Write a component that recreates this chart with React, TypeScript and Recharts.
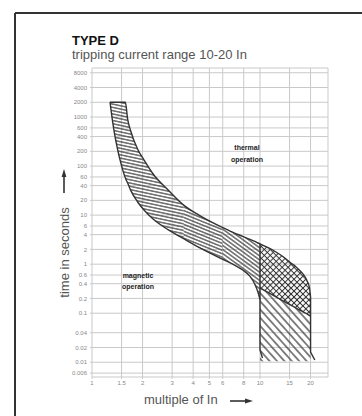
import React from 'react';
import { ComposedChart, Area, Line, XAxis, YAxis, CartesianGrid } from 'recharts';

const xTicks = [1, 1.5, 2, 3, 4, 5, 6, 8, 10, 15, 20];
const yTicks = [
  0.006, 0.01, 0.02, 0.04, 0.1, 0.2, 0.4, 0.6, 1, 2, 4, 6, 10, 20, 40, 60, 100, 200, 400, 600, 1000,
  2000, 4000, 8000,
];

// thermal band (time in s), read along the multiple-of-In axis
const thermalX = [1.28, 1.32, 1.36, 1.42, 1.48, 1.58, 1.63, 1.7, 1.87, 2.04, 2.31, 2.85, 3.51, 4.33, 5.19, 5.97, 7.05, 7.89, 8.7, 9.32, 9.72, 10];
const thermalLow = [2000, 910, 470, 220, 120, 57, 45, 32, 18.5, 12.7, 8.3, 5, 3.3, 2.2, 1.6, 1.27, 0.96, 0.76, 0.57, 0.39, 0.27, 0.19];
const thermalHigh = [2000, 2000, 2000, 2000, 2000, 2000, 910, 520, 220, 133, 69, 32, 16, 10, 7.1, 5.6, 4.3, 3.7, 3.2, 2.9, 2.7, 2.6];

// magnetic range 10-20 In
const magneticX = [10, 11.1, 12.45, 13.8, 15.15, 16.4, 17.6, 18.5, 19.1, 19.66, 20];
const overlapHigh = [2.6, 2.19, 1.77, 1.4, 1.08, 0.875, 0.69, 0.56, 0.45, 0.34, 0.214];
const overlapLow = [0.326, 0.268, 0.215, 0.176, 0.148, 0.127, 0.111, 0.102, 0.096, 0.091, 0.088];
const magneticFloor = [0.0105, 0.0105, 0.0105, 0.0105, 0.0105, 0.0105, 0.0105, 0.0105, 0.0105, 0.0105, 0.0105];

const leftLimitX = [10, 10, 10.35];
const leftLimitT = [2.6, 0.0178, 0.0122];
const rightLimitX = [20, 20, 21.2];
const rightLimitT = [0.214, 0.0162, 0.0111];

const thermalData = thermalX.map((x, i) => ({ x, band: [thermalLow[i], thermalHigh[i]] }));
const thermalTop = thermalData.slice(0, 13);
const thermalMid = thermalData.slice(12, 16);
const thermalEnd = thermalData.slice(15);
const overlapData = magneticX.map((x, i) => ({ x, band: [overlapLow[i], overlapHigh[i]] }));
const magneticData = magneticX.map((x, i) => ({ x, band: [magneticFloor[i], overlapLow[i]] }));
const leftLimit = leftLimitX.map((x, i) => ({ x, t: leftLimitT[i] }));
const rightLimit = rightLimitX.map((x, i) => ({ x, t: rightLimitT[i] }));

const font = 'Liberation Sans, Arial, Helvetica, sans-serif';
const ink = '#333';

const fillOnly = { type: 'monotone' as const, stroke: 'none', fillOpacity: 1, dot: false, activeDot: false, isAnimationActive: false };

export default function App() {
  return (
    <div style={{ position: 'absolute', left: 0, top: 0, width: 362, height: 416, background: '#fff', fontFamily: font }}>
      <div style={{ position: 'absolute', left: 0, top: 0 }}>
        <ComposedChart width={362} height={416} margin={{ top: 68, right: 34, bottom: 19, left: 62 }}>
          <defs>
            <pattern id="hatchTop" patternUnits="userSpaceOnUse" width="8" height="3.2" patternTransform="rotate(12)">
              <line x1="0" y1="1.6" x2="8" y2="1.6" stroke={ink} strokeWidth="1.1" />
            </pattern>
            <pattern id="hatchMid" patternUnits="userSpaceOnUse" width="8" height="3.2" patternTransform="rotate(22)">
              <line x1="0" y1="1.6" x2="8" y2="1.6" stroke={ink} strokeWidth="1.1" />
            </pattern>
            <pattern id="hatchEnd" patternUnits="userSpaceOnUse" width="8" height="3.3" patternTransform="rotate(36)">
              <line x1="0" y1="1.65" x2="8" y2="1.65" stroke={ink} strokeWidth="1.1" />
            </pattern>
            <pattern id="hatchCross" patternUnits="userSpaceOnUse" width="4.2" height="4.2" patternTransform="rotate(45)">
              <line x1="0" y1="2.1" x2="4.2" y2="2.1" stroke={ink} strokeWidth="1" />
              <line x1="2.1" y1="0" x2="2.1" y2="4.2" stroke={ink} strokeWidth="1" />
            </pattern>
            <pattern id="hatchMagnetic" patternUnits="userSpaceOnUse" width="8" height="5.5" patternTransform="rotate(48)">
              <line x1="0" y1="2.75" x2="8" y2="2.75" stroke={ink} strokeWidth="1.2" />
            </pattern>
          </defs>
          <CartesianGrid stroke="#c9c9c9" strokeWidth={1} />
          <XAxis
            type="number"
            dataKey="x"
            scale="log"
            domain={[1, 25.4]}
            ticks={xTicks}
            interval={0}
            allowDataOverflow
            height={20}
            axisLine={false}
            tickLine={{ stroke: '#c9c9c9' }}
            tickSize={2}
            tickMargin={2}
            tick={{ fontSize: 6, fill: '#888', fontFamily: font }}
          />
          <YAxis
            type="number"
            scale="log"
            domain={[0.005, 10000]}
            ticks={yTicks}
            interval={0}
            allowDataOverflow
            width={30}
            axisLine={false}
            tickLine={{ stroke: '#c9c9c9' }}
            tickSize={2}
            tickMargin={3}
            tick={{ fontSize: 6, fill: '#888', fontFamily: font }}
          />
          <Area data={magneticData} dataKey="band" {...fillOnly} type="linear" fill="url(#hatchMagnetic)" />
          <Area data={thermalTop} dataKey="band" {...fillOnly} fill="url(#hatchTop)" />
          <Area data={thermalMid} dataKey="band" {...fillOnly} fill="url(#hatchMid)" />
          <Area data={thermalEnd} dataKey="band" {...fillOnly} fill="url(#hatchEnd)" />
          <Area
            data={thermalData}
            dataKey="band"
            type="monotone"
            stroke={ink}
            strokeWidth={1.4}
            fill="none"
            dot={false}
            activeDot={false}
            isAnimationActive={false}
          />
          <Area
            data={overlapData}
            dataKey="band"
            type="monotone"
            stroke={ink}
            strokeWidth={1.4}
            fill="url(#hatchCross)"
            fillOpacity={1}
            dot={false}
            activeDot={false}
            isAnimationActive={false}
          />
          <Line data={leftLimit} dataKey="t" type="linear" stroke={ink} strokeWidth={1.4} dot={false} isAnimationActive={false} />
          <Line data={rightLimit} dataKey="t" type="linear" stroke={ink} strokeWidth={1.4} dot={false} isAnimationActive={false} />
        </ComposedChart>
      </div>
      <svg width={362} height={416} style={{ position: 'absolute', left: 0, top: 0, pointerEvents: 'none' }}>
        <line x1={15} y1={13} x2={362} y2={13} stroke="#333" strokeWidth={2} />
        <line x1={15} y1={13} x2={15} y2={416} stroke="#333" strokeWidth={2} />
        <text x={72} y={45} fontSize={13} fontWeight="bold" fill="#111" fontFamily={font}>TYPE D</text>
        <text x={72} y={59} fontSize={13} fill="#555" fontFamily={font}>tripping current range 10-20 In</text>
        <text x={247} y={150} fontSize={7} fontWeight="bold" fill="#222" textAnchor="middle" fontFamily={font}>thermal</text>
        <text x={247} y={161.5} fontSize={7} fontWeight="bold" fill="#222" textAnchor="middle" fontFamily={font}>operation</text>
        <text x={138} y={278} fontSize={7} fontWeight="bold" fill="#222" textAnchor="middle" fontFamily={font}>magnetic</text>
        <text x={138} y={289} fontSize={7} fontWeight="bold" fill="#222" textAnchor="middle" fontFamily={font}>operation</text>
        <text x={68.5} y={252.5} fontSize={13} fill="#555" textAnchor="middle" fontFamily={font} transform="rotate(-90 68.5 252.5)">
          time in seconds
        </text>
        <line x1={64} y1={193} x2={64} y2={175} stroke="#333" strokeWidth={1.6} />
        <polygon points="61.6,177 64,169 66.4,177" fill="#333" />
        <text x={144} y={404} fontSize={13} fill="#555" fontFamily={font}>multiple of In</text>
        <line x1={230} y1={401} x2={247} y2={401} stroke="#333" strokeWidth={1.6} />
        <polygon points="245,398.6 253,401 245,403.4" fill="#333" />
      </svg>
    </div>
  );
}
